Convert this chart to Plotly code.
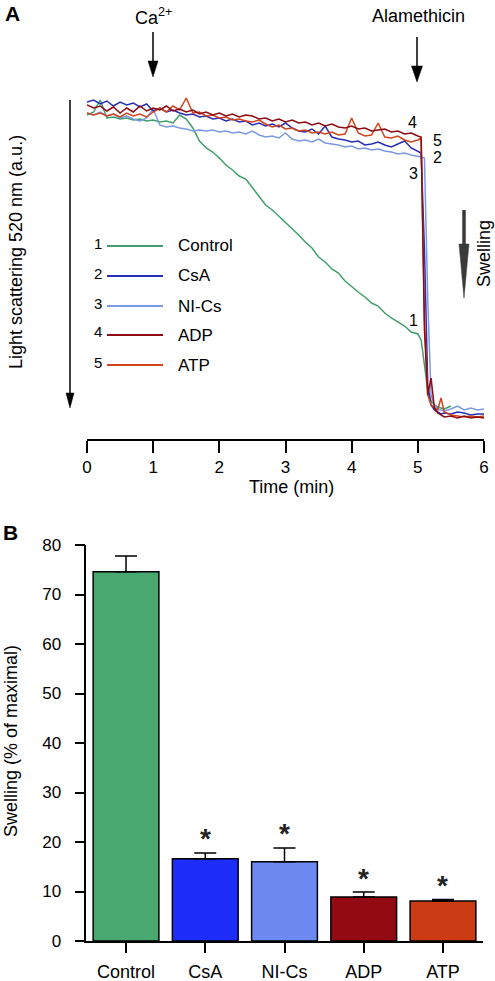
import plotly.graph_objects as go

# ---------------- Panel A data (light scattering, a.u.) ----------------
TIME = [0.0, 0.1, 0.2, 0.3, 0.4, 0.5, 0.6, 0.7, 0.8, 0.9,
        1.0, 1.1, 1.2, 1.3, 1.4, 1.5, 1.6, 1.7, 1.8, 1.9,
        2.0, 2.1, 2.2, 2.3, 2.4, 2.5, 2.6, 2.7, 2.8, 2.9,
        3.0, 3.1, 3.2, 3.3, 3.4, 3.5, 3.6, 3.7, 3.8, 3.9,
        4.0, 4.1, 4.2, 4.3, 4.4, 4.5, 4.6, 4.7, 4.8, 4.9,
        5.0, 5.05, 5.1, 5.15, 5.2, 5.25, 5.3, 5.35, 5.4,
        5.5, 5.6, 5.7, 5.8, 5.9, 6.0]

TIME_CONTROL = TIME[:60]

CONTROL = [305, 308, 320, 302, 303, 301, 302, 300, 301, 299,
           300, 298, 299, 297, 305, 301, 292, 279, 272, 268,
           262, 255, 250, 244, 241, 232, 223, 215, 210, 204,
           198, 191, 185, 178, 172, 163, 158, 151, 147, 139,
           133, 128, 123, 117, 114, 107, 102, 98, 94, 88,
           86, 80, 55, 30, 19, 15, 13, 12, 11, 14]

CSA = [318, 320, 316, 319, 314, 318, 315, 317, 313, 316,
       309, 312, 308, 310, 307, 305, 306, 303, 304, 301,
       302, 299, 301, 298, 299, 295, 297, 294, 296, 293,
       297, 292, 289, 288, 291, 286, 294, 283, 281, 280,
       278, 279, 275, 276, 278, 275, 273, 276, 279, 272,
       269, 267, 170, 35, 15, 10, 8, 6, 7,
       6, 8, 7, 5, 6, 6]

NICS = [307, 305, 308, 304, 306, 302, 304, 301, 299, 302,
        311, 295, 293, 294, 292, 291, 289, 290, 289, 290,
        288, 289, 287, 288, 286, 289, 285, 283, 284, 282,
        287, 281, 279, 280, 278, 281, 277, 276, 275, 273,
        274, 271, 272, 270, 271, 269, 268, 266, 267, 265,
        264, 263, 262, 120, 25, 15, 11, 10, 9,
        11, 14, 10, 12, 10, 11]

ADP = [315, 312, 314, 309, 313, 307, 312, 308, 314, 309,
       312, 310, 314, 309, 311, 308, 310, 306, 308, 305,
       307, 304, 306, 303, 305, 304, 301, 302, 299, 301,
       298, 300, 297, 298, 295, 297, 294, 296, 293, 292,
       294, 291, 292, 289, 290, 291, 288, 289, 286, 287,
       284, 283, 90, 25, 42, 12, 7, 5, 3,
       4, 2, 4, 2, 3, 2]

ATP = [307, 305, 307, 304, 306, 303, 307, 304, 306, 303,
       308, 312, 308, 314, 310, 322, 307, 308, 304, 305,
       302, 303, 300, 301, 299, 298, 300, 296, 293, 295,
       291, 292, 289, 290, 287, 288, 286, 288, 285, 286,
       302, 287, 284, 285, 297, 283, 282, 284, 280, 278,
       280, 282, 100, 25, 15, 12, 10, 22, 8,
       5, 4, 3, 4, 3, 4]

TRACE_NAMES = ["Control", "CsA", "NI-Cs", "ADP", "ATP"]
TRACE_NUMS = ["1", "2", "3", "4", "5"]
TRACE_COLORS = ["#3f9f6b", "#2a2db5", "#7b9ae2", "#8c0c12", "#d2441e"]

TIME_TICKS = [0, 1, 2, 3, 4, 5, 6]

# ---------------- Panel B data (swelling, % of maximal) ----------------
CATS = ["Control", "CsA", "NI-Cs", "ADP", "ATP"]
SWELL = [74.6, 16.6, 16.0, 8.9, 8.1]
SEM = [3.2, 1.2, 2.8, 1.0, 0.3]
SIG = ["", "*", "*", "*", "*"]
BAR_COLORS = ["#49a86f", "#1f2dfb", "#6d8af1", "#940a12", "#cc3c14"]
SWELL_TICKS = [0, 10, 20, 30, 40, 50, 60, 70, 80]

W, H = 495, 981
FONT = "Liberation Sans, Arial, sans-serif"


def px(x):
    return x / W


def py(y):
    return 1 - y / H


fig = go.Figure()

series = [(TIME_CONTROL, CONTROL), (TIME, CSA), (TIME, NICS), (TIME, ADP), (TIME, ATP)]
order = [0, 2, 1, 4, 3]
for i in order:
    t, v = series[i]
    fig.add_trace(go.Scatter(x=t, y=v, mode="lines", name=TRACE_NAMES[i],
                             line=dict(color=TRACE_COLORS[i], width=1.5),
                             xaxis="x", yaxis="y", showlegend=False,
                             hoverinfo="skip"))

fig.add_trace(go.Bar(x=CATS, y=SWELL, width=0.83,
                     marker=dict(color=BAR_COLORS, line=dict(color="black", width=1.5)),
                     error_y=dict(type="data", array=SEM, arrayminus=[0] * len(SEM),
                                  symmetric=False, color="black", thickness=1.5, width=11),
                     xaxis="x2", yaxis="y2", showlegend=False))

annotations = []
shapes = []


def text(x, y, s, size=17, bold=False, angle=0, xanchor="center", yanchor="middle"):
    annotations.append(dict(x=px(x), y=py(y), xref="paper", yref="paper",
                            text=("<b>%s</b>" % s) if bold else s, showarrow=False,
                            textangle=angle, xanchor=xanchor, yanchor=yanchor,
                            font=dict(family=FONT, size=size, color="black")))


def arrow(x, y0, y1, head_len, head_w, color="black", shaft=1.5):
    shapes.append(dict(type="line", xref="paper", yref="paper",
                       x0=px(x), x1=px(x), y0=py(y0), y1=py(y1 - head_len + 1),
                       line=dict(color=color, width=shaft)))
    path = "M %f,%f L %f,%f L %f,%f Z" % (px(x), py(y1), px(x - head_w / 2), py(y1 - head_len),
                                          px(x + head_w / 2), py(y1 - head_len))
    shapes.append(dict(type="path", xref="paper", yref="paper", path=path,
                       fillcolor=color, line=dict(color=color, width=0.5)))


# panel labels
text(12, 13, "A", size=21, bold=True)
text(10, 532, "B", size=21, bold=True)

# additions
text(153, 16, "Ca<sup>2+</sup>", size=18)
arrow(153, 32, 77, 16, 10)
text(418, 16, "Alamethicin", size=18)
arrow(417, 37, 82, 16, 11)

# panel A y axis arrow and title
arrow(70, 100, 408, 15, 8)
text(16, 252, "Light scattering 520 nm (a.u.)", size=18, angle=-90)

# swelling arrow
arrow(464, 210, 298, 54, 10, color="#3a3a3a", shaft=3.5)
text(484, 254, "Swelling", size=18, angle=-90)

# panel A x title
text(291, 487, "Time (min)", size=18)

# legend
leg_y = [246, 276, 306, 335, 365]
for i in range(5):
    text(98, leg_y[i] - 3, TRACE_NUMS[i], size=15)
    shapes.append(dict(type="line", xref="paper", yref="paper",
                       x0=px(107), x1=px(163), y0=py(leg_y[i]), y1=py(leg_y[i]),
                       line=dict(color=TRACE_COLORS[i], width=2)))
    text(176, leg_y[i], TRACE_NAMES[i], size=17, xanchor="left")

# trace labels
for s, (x, y) in zip(["4", "5", "2", "3", "1"],
                     [(412, 123), (437, 140), (437, 157), (413, 173), (413, 320)]):
    text(x, y, s, size=16)

# significance stars
for c, v, e, s in zip(CATS, SWELL, SEM, SIG):
    if s:
        annotations.append(dict(x=c, y=v + e, xref="x2", yref="y2", text="<b>%s</b>" % s,
                                showarrow=False, yanchor="middle", yshift=14,
                                font=dict(family=FONT, size=28, color="#222")))

# panel B y title
text(11, 741, "Swelling (% of maximal)", size=18, angle=-90)

axis_common = dict(showline=True, linecolor="black", linewidth=1.5, ticks="outside",
                   tickcolor="black", tickwidth=1.5, showgrid=False, zeroline=False)

fig.update_layout(
    width=W, height=H, margin=dict(l=0, r=0, t=0, b=0, autoexpand=False),
    paper_bgcolor="white", plot_bgcolor="white", showlegend=False,
    font=dict(family=FONT, size=17, color="black"),
    xaxis=dict(domain=[px(87), px(484)], range=[0, 6], tickvals=TIME_TICKS,
               anchor="y", ticklen=12, tickfont=dict(family=FONT, size=17, color="black"),
               **axis_common),
    yaxis=dict(domain=[py(439), py(95)], range=[-19, 325], visible=False,
               anchor="x"),
    xaxis2=dict(domain=[px(86.4), px(482.6)], range=[-0.5, 4.5], type="category",
                anchor="y2", ticklen=10, ticklabelstandoff=4,
                tickfont=dict(family=FONT, size=18, color="black"), **axis_common),
    yaxis2=dict(domain=[py(941), py(545)], range=[0, 80], tickvals=SWELL_TICKS,
                anchor="x2", ticklen=10, ticklabelstandoff=10,
                tickfont=dict(family=FONT, size=17, color="black"), **axis_common),
    annotations=annotations, shapes=shapes,
)

fig.write_html("out.html",
               config={"displayModeBar": False},
               post_script="document.body.style.margin='0';"
                           "document.body.style.overflow='hidden';")
